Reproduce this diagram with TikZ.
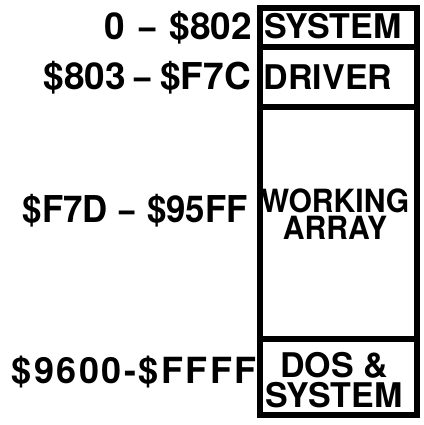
\documentclass[tikz,border=0pt]{standalone}
\usepackage{fontspec}
\newfontfamily\hv{TeX Gyre Heros}[Ligatures=TeX]
\newfontfamily\hvn{TeX Gyre Heros}[Ligatures=TeX,FakeStretch=0.94]
\newcommand\shortdash{\scalebox{0.8}[1]{–}}
\begin{document}
\begin{tikzpicture}[x=1pt,y=-1pt,
  addr/.style={anchor=base east,inner sep=0pt,font=\hv\bfseries\fontsize{37}{37}\selectfont},
  seg/.style={anchor=base,inner sep=0pt,font=\hv\bfseries\fontsize{34}{34}\selectfont},
  seglines/.style={line width=6pt,line cap=rect},
  twoline/.style={anchor=center,inner sep=0pt,align=center,font=\hvn\bfseries\fontsize{32}{27}\selectfont}]
\useasboundingbox (0,0) rectangle (423,425);
\draw[seglines] (260,8) rectangle (417,415);
\draw[seglines] (260,47) -- (417,47);
\draw[seglines] (260,107) -- (417,107);
\draw[seglines] (260,339) -- (417,339);
\node[addr] (a1) at (252,40) {0\hspace{14pt}\shortdash\hspace{14pt}\$802};
\node[addr] (a2) at (251,90) {\$803\hspace{9pt}\shortdash\hspace{9pt}\$F7C};
\node[addr,font=\hvn\bfseries\fontsize{37}{37}\selectfont] (a3) at (248,222) {\$F7D\hspace{12pt}\shortdash\hspace{12pt}\$95FF};
\node[addr,font=\hv\bfseries\fontsize{36}{36}\selectfont\addfontfeature{LetterSpace=7}] (a4) at (257,383) {\$9600-\$FFFF};
\node[seg] (s1) at (333,39) {SYSTEM};
\node[seg] (s2) at (328,90) {DRIVER};
\node[twoline] (s3) at (335,214) {WORKING\\ARRAY};
\node[twoline,font=\hv\bfseries\fontsize{34}{30}\selectfont] (s4) at (334,380) {DOS \&\\SYSTEM};
\end{tikzpicture}
\end{document}
